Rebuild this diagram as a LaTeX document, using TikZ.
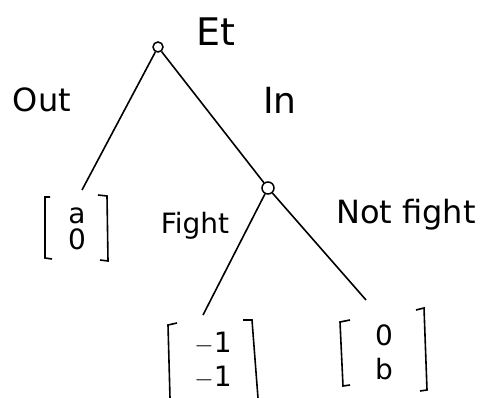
\documentclass[tikz,border=0pt]{standalone}
\usepackage{fontspec}
\setmainfont{DejaVu Sans}
\begin{document}
\begin{tikzpicture}[x=1pt,y=-1pt,
  dec/.style={circle,draw,line width=1.5pt,inner sep=0pt,minimum size=10pt},
  lbl/.style={font=\fontsize{32}{34}\selectfont,inner sep=0pt},
  pay/.style={font=\fontsize{28}{30}\selectfont,inner sep=0pt,align=center},
  edge/.style={line width=1.6pt},
  brk/.style={line width=1.6pt}]
\useasboundingbox (0,0) rectangle (497,398);
\node[dec] (root) at (158,47) {};
\node[dec,minimum size=12pt] (n2) at (268,188) {};
% payoffs
\node[pay] (p1) at (77,229) {a\\[-4pt]0};
\node[pay] (p2) at (213,360) {$-$1\\[4pt]$-$1};
\node[pay] (p3) at (384,352) {0\\[4pt]b};
% brackets
\draw[brk] (50,197) -- (45,197) -- (45,258) -- (52,259);
\draw[brk] (98,195) -- (107,196) -- (108,261) -- (100,260);
\draw[brk] (177,323) -- (168,325) -- (170,398);
\draw[brk] (243,320) -- (252,320) -- (258,398);
\draw[brk] (350,320) -- (340,322) -- (343,386) -- (350,385);
\draw[brk] (416,310) -- (424,308) -- (427,390) -- (420,391);
% edge endpoints
\coordinate (e1) at (82,190);
\coordinate (e2) at (203,315);
\coordinate (e3) at (366,300);
\draw[edge] (root) -- (e1);
\draw[edge] (root) -- (n2);
\draw[edge] (n2) -- (e2);
\draw[edge] (n2) -- (e3);
% labels
\node[lbl,font=\fontsize{38}{40}\selectfont] (et) at (216,32) {Et};
\node[lbl] (out) at (42,100) {Out};
\node[lbl,font=\fontsize{36}{38}\selectfont] (in) at (280,100) {In};
\node[lbl,font=\fontsize{28}{30}\selectfont] (fight) at (195,226) {Fight};
\node[lbl] (nf) at (406,215) {Not fight};
\end{tikzpicture}
\end{document}
